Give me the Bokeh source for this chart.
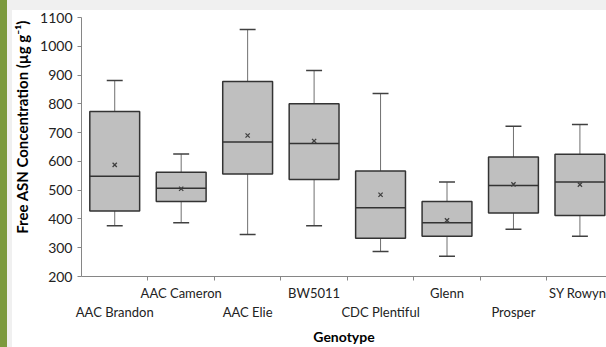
from bokeh.plotting import figure
from bokeh.models import (ColumnDataSource, FixedTicker, LinearAxis, Range1d)
from bokeh.embed import file_html
from bokeh.resources import INLINE

genotypes = ["AAC Brandon", "AAC Cameron", "AAC Elie", "BW5011",
             "CDC Plentiful", "Glenn", "Prosper", "SY Rowyn"]
whisker_low = [376, 387, 346, 376, 287, 270, 364, 340]
q1 = [428, 461, 556, 537, 333, 340, 421, 412]
median = [548, 507, 667, 662, 439, 387, 516, 528]
q3 = [773, 562, 878, 800, 567, 461, 615, 625]
whisker_high = [881, 626, 1058, 916, 836, 528, 722, 728]
mean = [588, 505, 690, 671, 484, 395, 520, 519]
y_ticks = [200, 300, 400, 500, 600, 700, 800, 900, 1000, 1100]

FONT = "Lato"
centers = [i + 0.5 for i in range(len(genotypes))]
bw = 0.75
cw = 0.24

src = ColumnDataSource(dict(
    x=centers, lo=whisker_low, q1=q1, med=median, q3=q3, hi=whisker_high,
    mean=mean,
    cl=[c - cw / 2 for c in centers], cr=[c + cw / 2 for c in centers],
    bl=[c - bw / 2 for c in centers], br=[c + bw / 2 for c in centers],
))

W, H = 606, 347
bg = ("linear-gradient(to right, #7c9a3e 0px, #7c9a3e 7px, transparent 7px), "
      "linear-gradient(to bottom, #f0f0f0 0px, #f0f0f0 10px, transparent 10px), "
      "linear-gradient(to right, #f0f0f0 0px, #f0f0f0 12px, #ffffff 12px)")
p = figure(width=W, height=H, output_backend="svg", toolbar_location=None,
           x_range=Range1d(0, 7.9), y_range=Range1d(200, 1100),
           min_border_left=81, min_border_right=0, min_border_top=17,
           min_border_bottom=0,
           styles={"background": bg})
p.border_fill_color = None
p.background_fill_color = "white"
p.outline_line_color = None
p.xgrid.visible = False
p.ygrid.visible = False

# whiskers
p.segment("x", "q3", "x", "hi", source=src, line_color="#707070", line_width=1)
p.segment("x", "lo", "x", "q1", source=src, line_color="#707070", line_width=1)
p.segment("cl", "hi", "cr", "hi", source=src, line_color="#404040", line_width=1.5)
p.segment("cl", "lo", "cr", "lo", source=src, line_color="#404040", line_width=1.5)
# boxes
p.quad(left="bl", right="br", bottom="q1", top="q3", source=src,
       fill_color="#bfbfbf", line_color="#333333", line_width=1.5)
p.segment("bl", "med", "br", "med", source=src, line_color="#333333", line_width=1.5)
p.scatter("x", "mean", source=src, marker="x", size=6, line_color="#404040",
          line_width=1.3)

# y axis
p.yaxis.ticker = FixedTicker(ticks=y_ticks)
p.yaxis.axis_label = "\u00a0" * 11 + "Free ASN Concentration (µg g⁻¹)"
p.yaxis.axis_label_text_font = FONT
p.yaxis.axis_label_text_font_style = "bold"
p.yaxis.axis_label_text_font_size = "15px"
p.yaxis.axis_label_text_color = "black"
p.yaxis.axis_label_standoff = 6
p.yaxis.major_label_text_font = FONT
p.yaxis.major_label_text_font_size = "14px"
p.yaxis.major_label_text_color = "#222222"
p.yaxis.major_label_standoff = 5
p.yaxis.axis_line_color = "#868686"
p.yaxis.major_tick_line_color = "#868686"
p.yaxis.major_tick_out = 4
p.yaxis.major_tick_in = 0
p.yaxis.minor_tick_line_color = None

# staggered category labels
upper = {c: g for i, (c, g) in enumerate(zip(centers, genotypes)) if i % 2 == 1}
lower = {c: g for i, (c, g) in enumerate(zip(centers, genotypes)) if i % 2 == 0}

# main x axis: upper-row labels, tick marks between categories (minor ticks)
p.xaxis.ticker = FixedTicker(ticks=list(upper.keys()),
                             minor_ticks=list(range(1, len(genotypes))))
p.xaxis.major_label_overrides = upper
p.xaxis.axis_line_color = "#868686"
p.xaxis.major_tick_line_color = None
p.xaxis.major_tick_out = 0
p.xaxis.major_tick_in = 0
p.xaxis.minor_tick_line_color = "#868686"
p.xaxis.minor_tick_out = 4
p.xaxis.minor_tick_in = 0
p.xaxis.major_label_standoff = 4
p.xaxis.major_label_text_font = FONT
p.xaxis.major_label_text_font_size = "13px"
p.xaxis.major_label_text_color = "#222222"

ax = LinearAxis(ticker=FixedTicker(ticks=list(lower.keys())),
                major_label_overrides=lower)
ax.axis_line_color = None
ax.major_tick_line_color = None
ax.minor_tick_line_color = None
ax.major_tick_out = 0
ax.major_tick_in = 0
ax.major_label_standoff = 0
ax.major_label_text_font = FONT
ax.major_label_text_font_size = "13px"
ax.major_label_text_color = "#222222"
ax.axis_label = "Genotype"
ax.axis_label_text_font = FONT
ax.axis_label_text_font_style = "bold"
ax.axis_label_text_font_size = "14px"
ax.axis_label_text_color = "black"
ax.axis_label_standoff = 5
p.add_layout(ax, "below")

open("out.html", "w").write(file_html(p, INLINE))
